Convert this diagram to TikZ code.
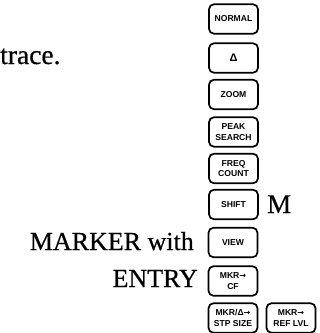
\documentclass[tikz,border=0pt]{standalone}
\usepackage{fontspec}
\setmainfont{Liberation Serif}[FakeBold=0.5]
\newfontfamily\keyfont{Liberation Sans}
\newfontfamily\arrowfont{DejaVu Sans}
\newcommand{\karr}{{\arrowfont\bfseries\fontsize{8}{8}\selectfont →}}
\begin{document}
\begin{tikzpicture}[x=1pt,y=-1pt,
  keybox/.style={draw=black, line width=1.7pt, rounded corners=5pt,
    minimum width=49pt, minimum height=29.5pt, inner sep=0pt,
    align=center, font=\keyfont\bfseries\fontsize{8.6}{10.5}\selectfont},
  bigtext/.style={inner sep=0pt, font=\fontsize{26}{30}\selectfont}]
\useasboundingbox (0,0) rectangle (320,333);
\node[bigtext, anchor=base west, font=\fontsize{27.5}{30}\selectfont] (trace) at (0,64) {trace.};
\node[keybox] (normal) at (233.5,19) {NORMAL};
\node[keybox] (delta) at (233.5,58) {\fontsize{11}{11}\selectfont Δ};
\node[keybox] (zoom) at (233.5,94.5) {ZOOM};
\node[keybox] (peak) at (233.5,132) {PEAK\\SEARCH};
\node[keybox] (freq) at (233.5,168.5) {FREQ\\COUNT};
\node[keybox] (shift) at (233.5,204.5) {SHIFT};
\node[keybox] (view) at (233,242.5) {VIEW};
\node[keybox] (mkrcf) at (233,281) {MKR\karr\\CF};
\node[keybox] (stp) at (233,318) {MKR/Δ\karr\\STP SIZE};
\node[keybox] (ref) at (291,318) {MKR\karr\\REF LVL};
\node[bigtext, anchor=base west, font=\fontsize{27}{30}\selectfont] (m) at (267,213) {M};
\node[bigtext, anchor=base east] (marker) at (194,250) {MARKER with};
\node[bigtext, anchor=base east] (entry) at (198,287) {ENTRY};
\end{tikzpicture}
\end{document}
